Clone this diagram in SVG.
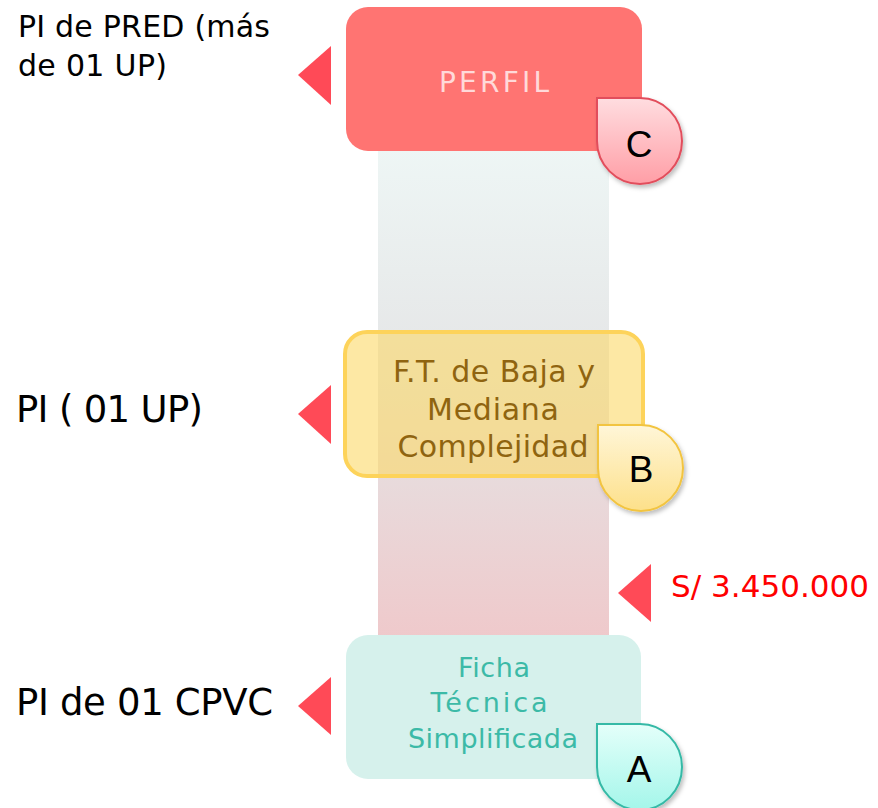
<svg xmlns="http://www.w3.org/2000/svg" width="878" height="808" viewBox="0 0 878 808">
<defs>
<linearGradient id="col" x1="0" y1="0" x2="0" y2="1">
<stop offset="0" stop-color="#eef6f5"/>
<stop offset="0.5" stop-color="#e4e4e5"/>
<stop offset="1" stop-color="#efc9cb"/>
</linearGradient>
<linearGradient id="gc" x1="0" y1="0" x2="0" y2="1">
<stop offset="0" stop-color="#ffdde0"/>
<stop offset="1" stop-color="#ff9ea6"/>
</linearGradient>
<linearGradient id="gb" x1="0" y1="0" x2="0" y2="1">
<stop offset="0" stop-color="#fff6d8"/>
<stop offset="1" stop-color="#fde08a"/>
</linearGradient>
<linearGradient id="ga" x1="0" y1="0" x2="0" y2="1">
<stop offset="0" stop-color="#e4fffa"/>
<stop offset="1" stop-color="#a4f6ea"/>
</linearGradient>
<filter id="sh" x="-20%" y="-20%" width="150%" height="150%">
<feDropShadow dx="2" dy="3" stdDeviation="2" flood-color="#000" flood-opacity="0.25"/>
</filter>
</defs>
<style>
.lbl{font-family:"DejaVu Sans","Noto Sans",sans-serif;fill:#000}
.tri{fill:#ff4a57}
.bt{font-family:"Liberation Sans",Arial,sans-serif;font-size:37px;fill:#000;text-anchor:middle}
.nt{font-family:"DejaVu Sans","Noto Sans",sans-serif;text-anchor:middle}
</style>
<rect x="378" y="148" width="231" height="490" fill="url(#col)"/>
<g id="connectors">
<polygon class="tri" points="298,75 331,46 331,105"/>
<polygon class="tri" points="298,414 331,385 331,444"/>
<polygon class="tri" points="298,706 331,677 331,735"/>
<polygon class="tri" points="618,593 651,564 651,622"/>
</g>
<g id="lbl-c"><text class="lbl" x="18" y="37" font-size="30" textLength="252" lengthAdjust="spacing">PI de PRED (más</text><text class="lbl" x="18" y="76" font-size="30" textLength="149" lengthAdjust="spacing">de 01 UP)</text></g>
<g id="lbl-b"><text class="lbl" x="16" y="422" font-size="37" textLength="187" lengthAdjust="spacing">PI ( 01 UP)</text></g>
<g id="lbl-a"><text class="lbl" x="16" y="715" font-size="37" textLength="257" lengthAdjust="spacing">PI de 01 CPVC</text></g>
<g id="lbl-s"><text x="671" y="597" font-size="31" fill="#ff0000" font-family="'DejaVu Sans','Noto Sans',sans-serif" textLength="198" lengthAdjust="spacing">S/ 3.450.000</text></g>
<g id="node-c">
<rect x="346" y="7" width="296" height="144" rx="22" fill="#ff7472"/>
<text class="nt" x="494" y="92" font-size="28" fill="#ffd9d9" textLength="110" lengthAdjust="spacing">PERFIL</text>
<path d="M597,98 H640 A42,43 0 0 1 682,141 A42,43 0 0 1 640,184 A43,43 0 0 1 597,141 Z" fill="url(#gc)" stroke="#e24e5c" stroke-width="2" filter="url(#sh)"/>
<text class="bt" x="639" y="157">C</text>
</g>
<g id="node-b">
<rect x="345" y="332" width="298" height="144" rx="22" fill="#fbd968" fill-opacity="0.6" stroke="#fdd35a" stroke-width="4"/>
<text class="nt" x="494" y="382" font-size="30" fill="#8f6410" textLength="202" lengthAdjust="spacing">F.T. de Baja y</text>
<text class="nt" x="493" y="420" font-size="30" fill="#8f6410" textLength="132" lengthAdjust="spacing">Mediana</text>
<text class="nt" x="493" y="457" font-size="30" fill="#8f6410" textLength="191" lengthAdjust="spacing">Complejidad</text>
<path d="M598,425 H641 A42,43 0 0 1 683,468 A42,43 0 0 1 641,511 A43,43 0 0 1 598,468 Z" fill="url(#gb)" stroke="#f2c440" stroke-width="2" filter="url(#sh)"/>
<text class="bt" x="641" y="482">B</text>
</g>
<g id="node-a">
<rect x="346" y="635" width="295" height="144" rx="22" fill="#d6f1ec"/>
<text class="nt" x="494" y="677" font-size="27" fill="#3cbaa7" textLength="72" lengthAdjust="spacing">Ficha</text>
<text class="nt" x="489" y="712" font-size="27" fill="#3cbaa7" textLength="117" lengthAdjust="spacing">Técnica</text>
<text class="nt" x="493" y="748" font-size="27" fill="#3cbaa7" textLength="170" lengthAdjust="spacing">Simplificada</text>
<path d="M597,724 H640 A42,43 0 0 1 682,767 A42,43 0 0 1 640,810 A43,43 0 0 1 597,767 Z" fill="url(#ga)" stroke="#35b9a6" stroke-width="2" filter="url(#sh)"/>
<text class="bt" x="639" y="782">A</text>
</g>
</svg>
